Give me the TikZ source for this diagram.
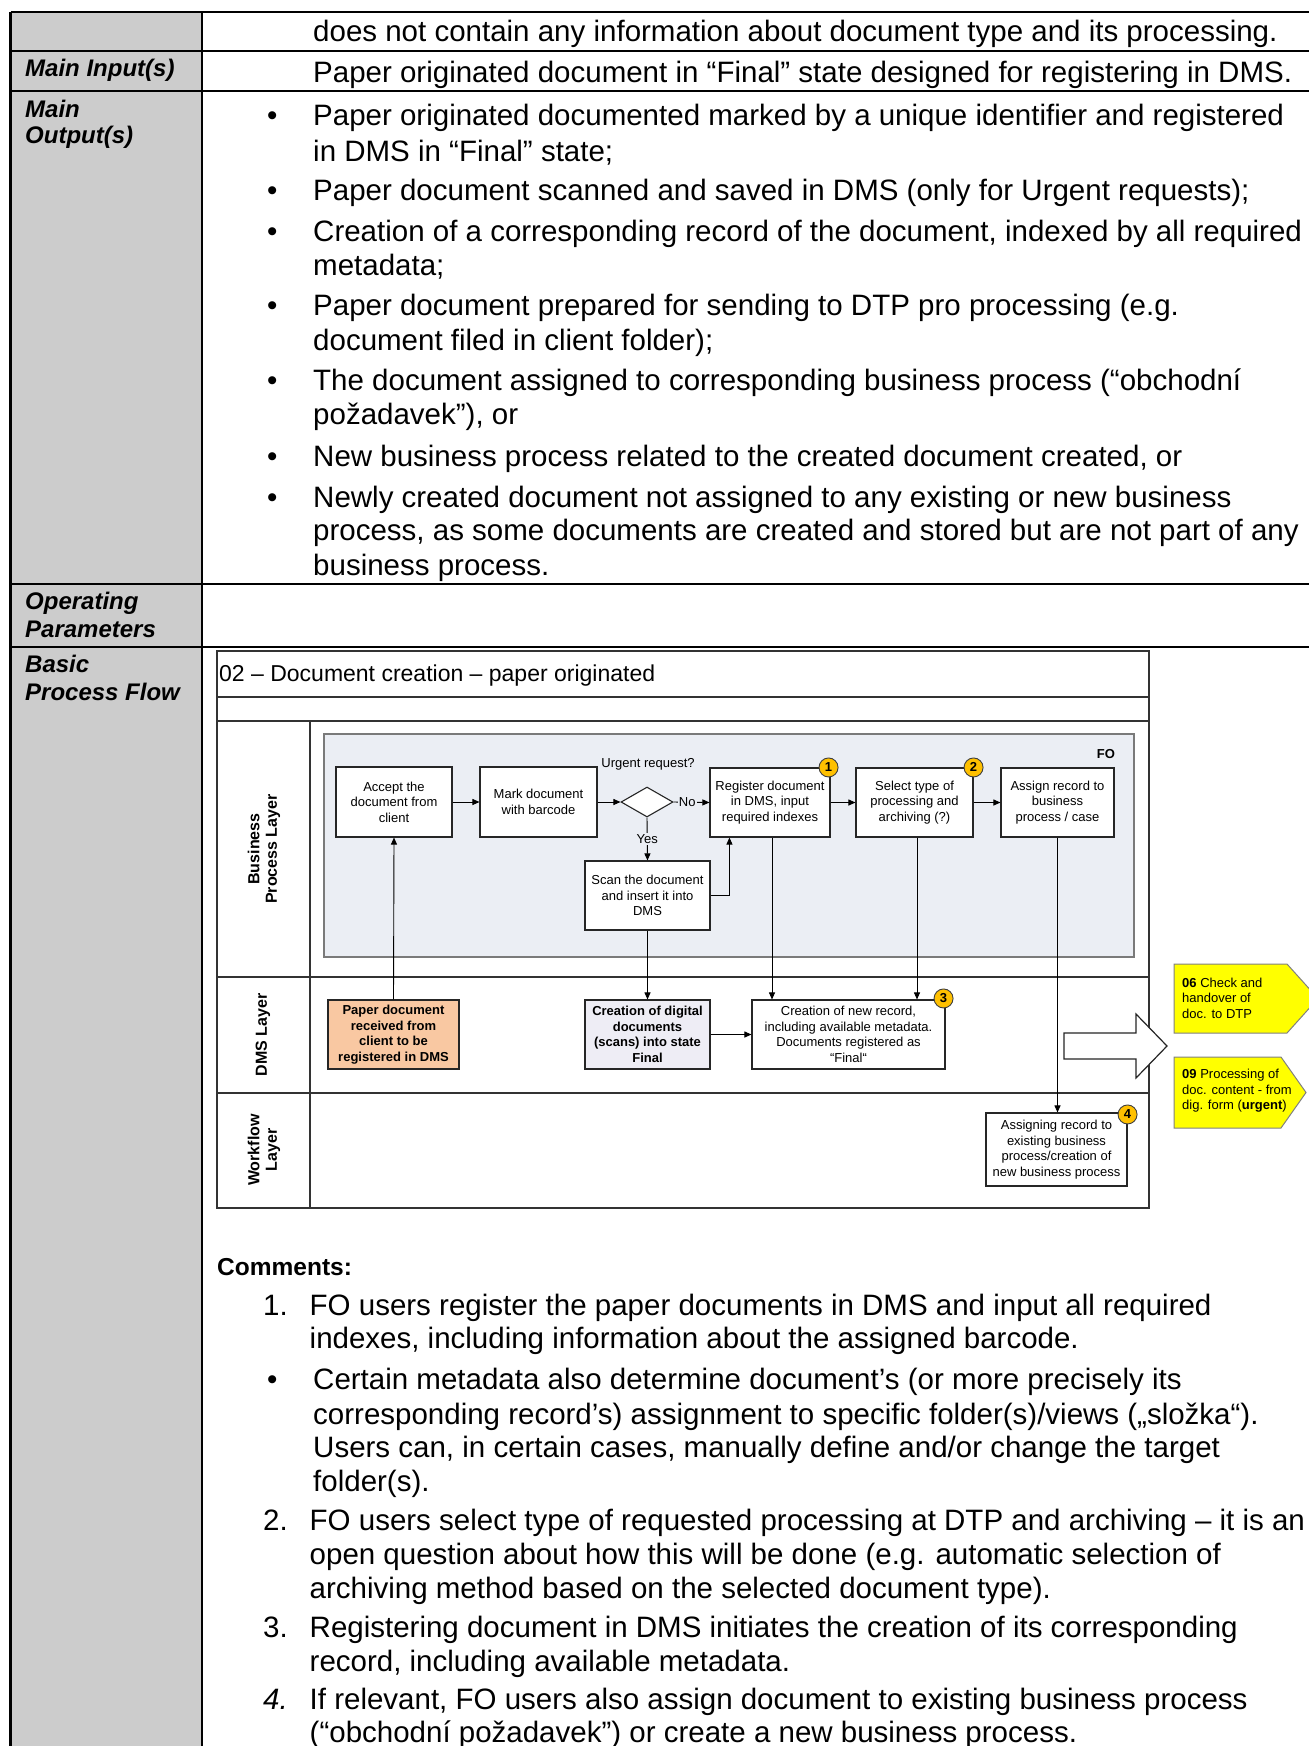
\documentclass[tikz,border=0pt]{standalone}
\usepackage{fontspec}
\setmainfont{Liberation Sans}
\usetikzlibrary{arrows.meta,shapes.geometric,calc}

\definecolor{colgray}{HTML}{CCCCCC}
\definecolor{bpfill}{HTML}{EBEEF4}
\definecolor{bpedge}{HTML}{7A7A7A}
\definecolor{peach}{HTML}{F9C8A2}
\definecolor{lavender}{HTML}{EEEDF5}
\definecolor{badgeY}{HTML}{FFC000}
\definecolor{tagY}{HTML}{FFFF00}

\tikzset{
  tabline/.style={line width=2.6pt, black},
  body/.style={anchor=base west, inner sep=0pt, font=\fontsize{29.5}{34}\selectfont},
  lbl/.style={anchor=base west, inner sep=0pt, font=\fontsize{24}{28}\selectfont\bfseries\itshape},
  frame/.style={draw=black!80, line width=1.4pt},
  box/.style={draw=black!85, line width=1.1pt, fill=white, align=center, inner sep=1pt,
              font=\fontsize{13}{15.5}\selectfont},
  flow/.style={draw=black, line width=0.9pt, -{Triangle[length=7pt,width=6pt]}},
  badge/.style={circle, draw=black!75, fill=badgeY, line width=0.9pt, inner sep=0pt,
                minimum size=19pt, font=\fontsize{13}{13}\selectfont\bfseries},
  lane/.style={rotate=90, align=center, font=\fontsize{16}{17.5}\selectfont\bfseries},
  tag/.style={fill=tagY, draw=black!50, line width=1pt},
  small/.style={inner sep=1pt, font=\fontsize{13}{15.5}\selectfont},
}

\begin{document}
\begin{tikzpicture}[x=1pt,y=-1pt]
\useasboundingbox (0,0) rectangle (1309,1746);
\clip (0,0) rectangle (1309,1746);
\fill[white] (0,0) rectangle (1309,1746);

% ---------- table frame ----------
\fill[colgray] (10.5,12) rectangle (202,1760);
\foreach \yy in {12,51,91,584,647}
  \draw[tabline] (10.5,\yy) -- (1320,\yy);
\draw[tabline] (10.5,12) -- (10.5,1760);
\draw[tabline] (202,12) -- (202,1760);

% ---------- row labels ----------
\node[lbl] (lin)  at (25,76)    {Main Input(s)};
\node[lbl] (lout1) at (25,117.5) {Main};
\node[lbl] (lout2) at (25,143)   {Output(s)};
\node[lbl] (lop1) at (25,609.5) {Operating};
\node[lbl] (lop2) at (25,637.5) {Parameters};
\node[lbl] (lbp1) at (25,672.5) {Basic};
\node[lbl] (lbp2) at (25,700.5) {Process Flow};

% ---------- top rows ----------
\node[body] (r1) at (313,41.5) {does not contain any information about document type and its processing.};
\node[body] (r2) at (313,82.5) {Paper originated document in “Final” state designed for registering in DMS.};

% ---------- main outputs ----------
\foreach \yy/\nm in {125/ba,200/bb,241/bc,315.5/bd,390/be,466/bf,507/bg}
  \node[body] (\nm) at (267,\yy) {•};
\node[body] (o1a) at (313,125)   {Paper originated documented marked by a unique identifier and registered};
\node[body] (o1b) at (313,161)   {in DMS in “Final” state;};
\node[body] (o2a) at (313,200)   {Paper document scanned and saved in DMS (only for Urgent requests);};
\node[body] (o3a) at (313,241)   {Creation of a corresponding record of the document, indexed by all required};
\node[body] (o3b) at (313,275)   {metadata;};
\node[body] (o4a) at (313,315.5) {Paper document prepared for sending to DTP pro processing (e.g.};
\node[body] (o4b) at (313,350)   {document filed in client folder);};
\node[body] (o5a) at (313,390)   {The document assigned to corresponding business process (“obchodní};
\node[body] (o5b) at (313,424.5) {požadavek”), or};
\node[body] (o6a) at (313,466)   {New business process related to the created document created, or};
\node[body] (o7a) at (313,507)   {Newly created document not assigned to any existing or new business};
\node[body] (o7b) at (313,540)   {process, as some documents are created and stored but are not part of any};
\node[body] (o7c) at (313,575)   {business process.};

% ---------- process diagram: frame and lanes ----------
\draw[frame] (217,651) rectangle (1149,1208);
\draw[frame] (217,697) -- (1149,697);
\draw[frame] (217,721) -- (1149,721);
\draw[frame] (310,721) -- (310,1208);
\draw[frame] (217,977) -- (1149,977);
\draw[frame] (217,1093) -- (1149,1093);
\node[anchor=west, inner sep=0pt, font=\fontsize{23}{26}\selectfont] (title) at (219,675.5)
  {02 – Document creation – paper originated};

\node[lane] (lnbp) at (264,849) {Business\\Process Layer};
\node[lane] (lndms) at (263,1035) {DMS Layer};
\node[lane] (lnwf) at (264,1150) {Workflow\\Layer};

% business process area
\draw[fill=bpfill, draw=bpedge, line width=1.6pt] (324,734) rectangle (1134,957);
\node[font=\fontsize{13}{15}\selectfont\bfseries, inner sep=0pt] (fo) at (1106,754) {FO};

% ---------- process steps ----------
\node[box, minimum width=116pt, minimum height=70pt] (accept) at (394,802)
  {Accept the\\document from\\client};
\node[box, minimum width=117pt, minimum height=70pt] (mark) at (538.5,802)
  {Mark document\\with barcode};
\node[diamond, draw=black!85, fill=white, line width=1.1pt, inner sep=0pt,
      minimum width=52pt, minimum height=30pt] (dia) at (647,802) {};
\node[small] (urg) at (648,764) {Urgent request?};
\node[box, minimum width=120pt, minimum height=69pt] (reg) at (770,802.5)
  {Register document\\in DMS, input\\required indexes};
\node[box, minimum width=117pt, minimum height=69pt] (sel) at (914.5,802.5)
  {Select type of\\processing and\\archiving (?)};
\node[box, minimum width=113pt, minimum height=69pt] (asg) at (1057.5,802.5)
  {Assign record to\\business\\process / case};
\node[box, minimum width=125pt, minimum height=69pt] (scan) at (647.5,895.5)
  {Scan the document\\and insert it into\\DMS};

\node[box, fill=peach, minimum width=131pt, minimum height=69pt,
      font=\fontsize{13}{15.5}\selectfont\bfseries] (paper) at (393.5,1034.5)
  {Paper document\\received from\\client to be\\registered in DMS};
\node[box, fill=lavender, minimum width=125pt, minimum height=69pt,
      font=\fontsize{13}{15.5}\selectfont\bfseries] (digi) at (647.5,1034.5)
  {Creation of digital\\documents\\(scans) into state\\Final};
\node[box, minimum width=193pt, minimum height=69pt] (newrec) at (848.5,1034.5)
  {Creation of new record,\\including available metadata.\\Documents registered as\\“Final“};
\node[box, minimum width=141pt, minimum height=73pt] (asgrec) at (1056.5,1149.5)
  {Assigning record to\\existing business\\process/creation of\\new business process};

% numbered markers
\node[badge] (n1) at ([shift={(-2,0)}]reg.north east) {1};
\node[badge] (n2) at (sel.north east) {2};
\node[badge] (n3) at ([shift={(-2,-1)}]newrec.north east) {3};
\node[badge] (n4) at ([shift={(0,2)}]asgrec.north east) {4};

% ---------- connectors ----------
\draw[flow] (accept) -- (mark);
\draw[flow] (mark) -- (dia);
\draw[flow] (dia.east) -- node[pos=0.38, fill=bpfill, small] (no) {No} (reg.west);
\draw[flow] (dia.south) -- node[fill=bpfill, small] (yes) {Yes} (scan.north);
\draw[flow] (reg) -- (sel);
\draw[flow] (sel) -- (asg);
\coordinate (regin) at ($(reg.south west)+(20,0)$);
\draw[flow] (scan.east) -| (regin);
\draw[flow] (paper.north) -- (accept.south);
\draw[flow] (scan.south) -- (digi.north);
\draw[flow] (digi.east) -- (newrec.west);
\draw[flow] ([xshift=2pt]reg.south) -- ([xshift=2pt]reg.south |- newrec.north);
\draw[flow] ([xshift=2.5pt]sel.south) -- ([xshift=2.5pt]sel.south |- newrec.north);
\draw[flow] (asg.south) -- (asg.south |- asgrec.north);

% ---------- hand-over arrow and follow-up processes ----------
\draw[fill=white, draw=black!85, line width=1.2pt]
  (1064,1033) -- (1136,1033) -- (1136,1014) -- (1167,1046)
  -- (1136,1078) -- (1136,1059) -- (1064,1059) -- cycle;
\draw[tag] (1174,964) -- (1287,964) -- (1318,998.5) -- (1287,1033) -- (1174,1033) -- cycle;
\draw[tag] (1174,1057) -- (1281,1057) -- (1306,1092.5) -- (1281,1128) -- (1174,1128) -- cycle;
\node[anchor=west, align=left, inner sep=0pt, font=\fontsize{13}{15.5}\selectfont] (t06) at (1182,998)
  {\textbf{06} Check and\\handover of\\doc. to DTP};
\node[anchor=west, align=left, inner sep=0pt, font=\fontsize{13}{15.5}\selectfont] (t09) at (1182,1091)
  {\textbf{09} Processing of\\doc. content - from\\dig. form (\textbf{urgent})};

% ---------- comments ----------
\node[anchor=base west, inner sep=0pt, font=\fontsize{24.5}{28}\selectfont\bfseries] (com) at (217,1275) {Comments:};
\node[body] (k1) at (263,1315) {1.};
\node[body] (c1a) at (309.5,1315)   {FO users register the paper documents in DMS and input all required};
\node[body] (c1b) at (309.5,1348.5) {indexes, including information about the assigned barcode.};
\node[body] (kb) at (267,1389.5) {•};
\node[body] (cba) at (313,1389.5) {Certain metadata also determine document’s (or more precisely its};
\node[body] (cbb) at (313,1424)   {corresponding record’s) assignment to specific folder(s)/views („složka“).};
\node[body] (cbc) at (313,1457.5) {Users can, in certain cases, manually define and/or change the target};
\node[body] (cbd) at (313,1491)   {folder(s).};
\node[body] (k2) at (263,1530) {2.};
\node[body] (c2a) at (309.5,1530)   {FO users select type of requested processing at DTP and archiving – it is an};
\node[body] (c2b) at (309.5,1564.5) {open question about how this will be done (e.g. automatic selection of};
\node[body] (c2c) at (309.5,1598)   {archiving method based on the selected document type).};
\node[body] (k3) at (263,1637) {3.};
\node[body] (c3a) at (309.5,1637)   {Registering document in DMS initiates the creation of its corresponding};
\node[body] (c3b) at (309.5,1671)   {record, including available metadata.};
\node[body] (k4) at (263,1709) {\itshape 4.};
\node[body] (c4a) at (309.5,1709)   {If relevant, FO users also assign document to existing business process};
\node[body] (c4b) at (309.5,1742.5) {(“obchodní požadavek”) or create a new business process.};
\end{tikzpicture}
\end{document}
